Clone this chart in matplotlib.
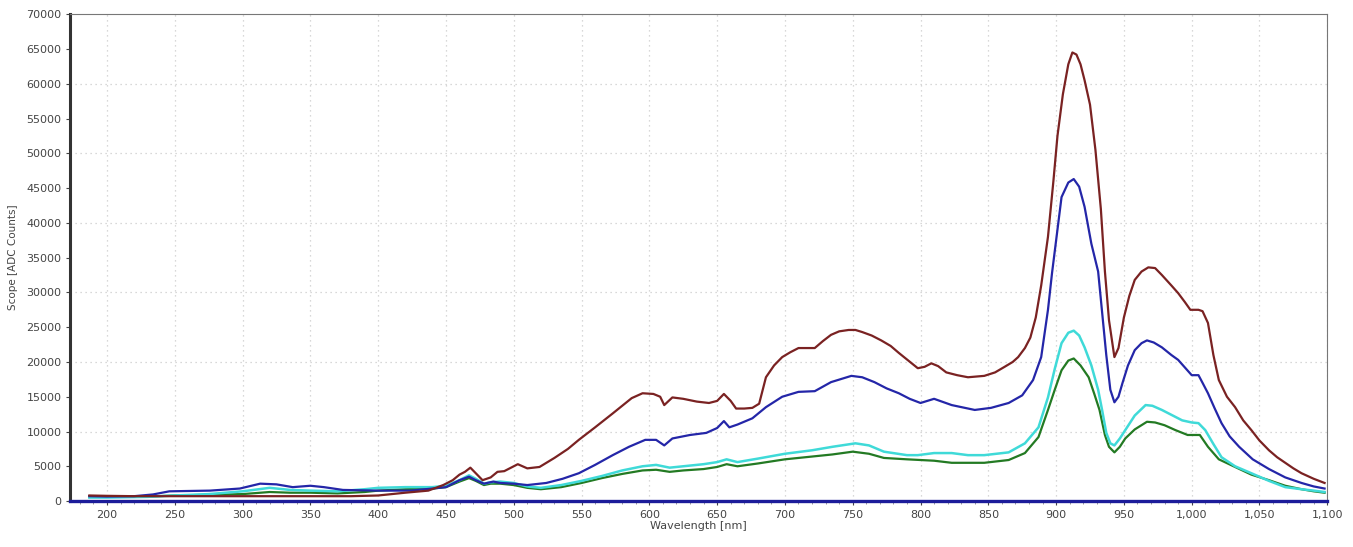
import numpy as np
import matplotlib.pyplot as plt
from matplotlib.ticker import MultipleLocator, FuncFormatter

# =========================
# Data
# =========================

brown_wl = [187, 200, 220, 240, 260, 300, 350, 380, 400, 420, 437, 448, 455, 460, 464, 468,
            472, 477, 483, 488, 493, 498, 503, 510, 519, 530, 540, 548, 560, 573, 587, 595,
            603, 608, 611, 617, 625, 635, 644, 650, 655, 660, 664, 670, 676, 681, 686, 692,
            698, 704, 710, 716, 722, 728, 734, 740, 747, 752, 757, 764, 771, 778, 784, 791,
            798, 803, 808, 813, 819, 827, 835, 847, 855, 862, 868, 872, 877, 881, 885, 889,
            894, 898, 901, 905, 909, 912, 915, 918, 921, 925, 929, 933, 936, 939, 943, 946,
            950, 954, 958, 963, 968, 973, 978, 985, 990, 995, 999, 1005, 1008, 1012, 1016,
            1020, 1026, 1032, 1038, 1044, 1050, 1057, 1063, 1069, 1075, 1081, 1090, 1098]
brown_counts = [800, 750, 700, 700, 700, 700, 700, 700, 800, 1200, 1500, 2300, 3000, 3800, 4200,
                4800, 4000, 3000, 3400, 4200, 4300, 4800, 5300, 4700, 4900, 6200, 7500, 8800,
                10600, 12600, 14800, 15500, 15400, 15000, 13800, 14900, 14700, 14300, 14100,
                14400, 15400, 14400, 13300, 13300, 13400, 14000, 17800, 19500, 20700, 21400,
                22000, 22000, 22000, 23000, 23900, 24400, 24600, 24600, 24300, 23800, 23100,
                22300, 21300, 20200, 19100, 19300, 19800, 19400, 18500, 18100, 17800, 18000,
                18500, 19300, 20000, 20700, 22000, 23500, 26400, 31000, 38000, 46000, 52500,
                58500, 62800, 64500, 64200, 62800, 60500, 57000, 50500, 42000, 33000, 26000,
                20700, 22000, 26400, 29500, 31800, 33000, 33600, 33500, 32500, 31000, 29900,
                28600, 27500, 27500, 27300, 25600, 21000, 17400, 15000, 13500, 11600, 10200,
                8700, 7300, 6300, 5500, 4700, 4000, 3200, 2600]

blue_wl = [187, 200, 220, 234, 246, 276, 298, 313, 325, 337, 350, 360, 374, 400, 424, 440, 450,
           460, 467, 472, 478, 485, 490, 500, 510, 524, 536, 548, 560, 573, 585, 597, 605, 611,
           617, 630, 642, 650, 655, 659, 665, 676, 686, 698, 710, 722, 734, 749, 757, 766, 775,
           784, 792, 800, 810, 823, 840, 852, 865, 875, 883, 889, 894, 897, 904, 909, 913, 917,
           921, 926, 931, 934, 937, 940, 943, 946, 949, 953, 958, 963, 967, 972, 978, 985, 990,
           995, 1000, 1005, 1008, 1012, 1017, 1022, 1028, 1035, 1045, 1057, 1069, 1081, 1090, 1098]
blue_counts = [700, 650, 700, 950, 1400, 1500, 1800, 2500, 2400, 2000, 2200, 2000, 1600, 1500,
               1500, 1800, 2000, 3000, 3500, 3000, 2500, 2800, 2600, 2500, 2300, 2600, 3200,
               4000, 5200, 6600, 7800, 8800, 8800, 8000, 9000, 9500, 9800, 10500, 11500, 10600,
               11000, 11900, 13500, 15000, 15700, 15800, 17100, 18000, 17800, 17100, 16200,
               15500, 14700, 14100, 14700, 13800, 13100, 13400, 14100, 15200, 17400, 20700,
               27500, 32800, 43700, 45800, 46300, 45200, 42300, 37000, 33000, 27000, 21000,
               16000, 14200, 15000, 17000, 19500, 21700, 22700, 23100, 22800, 22100, 21000,
               20300, 19200, 18100, 18100, 17000, 15500, 13300, 11200, 9300, 7800, 6000, 4600,
               3400, 2600, 2100, 1800]

cyan_wl = [187, 200, 230, 250, 275, 300, 320, 335, 350, 370, 390, 400, 420, 440, 450, 460, 467,
           472, 478, 483, 490, 500, 510, 520, 535, 550, 565, 580, 595, 605, 615, 625, 640, 650,
           657, 665, 680, 700, 720, 735, 752, 762, 773, 790, 798, 810, 823, 835, 847, 865, 877,
           887, 894, 899, 904, 909, 913, 917, 921, 926, 931, 934, 937, 940, 943, 947, 951, 958,
           966, 971, 978, 985, 993, 1000, 1005, 1010, 1016, 1022, 1032, 1044, 1057, 1069, 1081,
           1090, 1098]
cyan_counts = [500, 500, 600, 800, 1000, 1400, 1900, 1600, 1500, 1400, 1700, 1900, 2000, 2000,
               2200, 3000, 3700, 3200, 2500, 2700, 2800, 2600, 2100, 1900, 2300, 2900, 3600,
               4400, 5000, 5200, 4800, 5000, 5300, 5600, 6000, 5600, 6100, 6800, 7300, 7800,
               8300, 8000, 7100, 6600, 6600, 6900, 6900, 6600, 6600, 7000, 8300, 10600, 14900,
               19000, 22700, 24200, 24500, 23800, 22100, 19500, 16000, 13000, 9800, 8300, 8000,
               9000, 10200, 12300, 13800, 13700, 13100, 12400, 11600, 11300, 11200, 10200, 8200,
               6300, 5000, 4000, 2900, 2000, 1700, 1500, 1300]

green_wl = [187, 200, 230, 250, 275, 300, 320, 335, 350, 370, 390, 400, 420, 440, 450, 460, 467,
            472, 478, 483, 490, 500, 510, 520, 535, 550, 565, 580, 595, 605, 615, 625, 640, 650,
            657, 665, 680, 700, 720, 735, 750, 762, 773, 790, 810, 823, 847, 865, 877, 887, 894,
            899, 904, 909, 913, 918, 924, 928, 932, 936, 939, 943, 947, 951, 958, 967, 973, 980,
            988, 997, 1006, 1012, 1020, 1032, 1044, 1057, 1069, 1081, 1090, 1098]
green_counts = [700, 600, 650, 800, 900, 1000, 1300, 1200, 1200, 1100, 1300, 1500, 1700, 1800,
                2000, 2800, 3300, 2900, 2300, 2500, 2500, 2300, 1900, 1700, 2000, 2600, 3300,
                3900, 4400, 4500, 4200, 4400, 4600, 4900, 5300, 5000, 5400, 6000, 6400, 6700,
                7100, 6800, 6200, 6000, 5800, 5500, 5500, 5900, 6900, 9200, 13100, 16000, 18800,
                20200, 20500, 19500, 17800, 15500, 13100, 9500, 7800, 7000, 7800, 9000, 10300,
                11400, 11300, 10900, 10200, 9500, 9500, 7800, 6000, 4900, 3800, 3000, 2200, 1700,
                1400, 1200]

x_ticks = list(range(200, 1101, 50))
y_ticks = list(range(0, 70001, 5000))

# =========================
# Figure
# =========================

plt.rcParams["font.family"] = ["DejaVu Sans"]

fig = plt.figure(figsize=(13.53, 5.47), dpi=100)
ax = fig.add_axes([0.052, 0.084, 0.929, 0.89])

ax.plot(green_wl, green_counts, color="#237a23", linewidth=1.6)
ax.plot(cyan_wl, cyan_counts, color="#3fdad8", linewidth=1.8)
ax.plot(blue_wl, blue_counts, color="#2426a8", linewidth=1.6)
ax.plot(brown_wl, brown_counts, color="#7a2222", linewidth=1.6)
ax.axhline(0, color="#1c1c9a", linewidth=2.4, clip_on=False, zorder=5)

ax.set_xlim(173, 1100)
ax.set_ylim(0, 70000)

ax.set_xticks(x_ticks)
ax.xaxis.set_minor_locator(MultipleLocator(10))
ax.set_yticks(y_ticks)
ax.xaxis.set_major_formatter(FuncFormatter(lambda v, p: f"{int(v):,}"))
ax.yaxis.set_major_formatter(FuncFormatter(lambda v, p: f"{int(v)}"))

# dotted grid: vertical every 50 nm, horizontal every 10000
for xv in x_ticks:
    ax.axvline(xv, color="#cccccc", linewidth=0.9, linestyle=(0, (1, 3)), zorder=0)
for yv in range(10000, 70000, 10000):
    ax.axhline(yv, color="#cccccc", linewidth=0.9, linestyle=(0, (1, 3)), zorder=0)

ax.tick_params(axis="both", labelsize=8, colors="#444444", length=3, width=0.8)
ax.tick_params(axis="x", which="minor", length=2, colors="#888888")

ax.spines["left"].set_linewidth(2.2)
ax.spines["left"].set_color("#333333")
ax.spines["bottom"].set_color("#333333")
ax.spines["top"].set_color("#777777")
ax.spines["right"].set_color("#777777")

ax.set_xlabel("Wavelength [nm]", fontsize=8, color="#444444", labelpad=1)
ax.set_ylabel("Scope [ADC Counts]", fontsize=7.5, color="#444444", labelpad=6)

fig.savefig("out.png", dpi=100)
